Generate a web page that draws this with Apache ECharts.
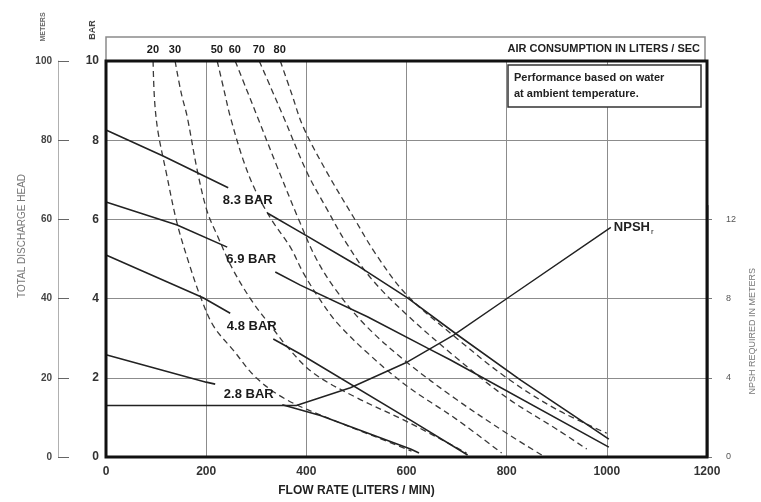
<!DOCTYPE html>
<html>
<head>
<meta charset="utf-8">
<script src="https://cdn.jsdelivr.net/npm/echarts@6/dist/echarts.min.js"></script>
<style>
  html, body { margin: 0; padding: 0; background: #fff; }
  #chart { width: 761px; height: 502px; }
</style>
</head>
<body>
<div id="chart"></div>
<script>
// flow rate (L/min) vs. discharge head (bar); '-' marks the gap where the label sits
const headLabels = ['8.3 BAR', '6.9 BAR', '4.8 BAR', '2.8 BAR']
const head83 = [[0, 8.26], [114, 7.6], [244, 6.8], '-', [322, 6.16], [388, 5.68], [500, 4.85], [602, 4.02], [700, 3.1], [828, 1.94], [1004, 0.45]]
const head69 = [[0, 6.44], [142, 5.86], [242, 5.3], '-', [338, 4.67], [388, 4.34], [522, 3.54], [642, 2.75], [688, 2.45], [1004, 0.25]]
const head48 = [[0, 5.1], [194, 4.02], [248, 3.63], '-', [334, 2.98], [388, 2.6], [608, 0.93], [722, 0.05]]
const head28 = [[0, 2.58], [200, 1.89], [218, 1.84], '-', [352, 1.32], [428, 1.05], [608, 0.2], [625, 0.1]]

// air consumption (liters / sec) iso-lines
const airLabels = [20, 30, 50, 60, 70, 80]
const air20 = [[94, 10], [97, 9], [104, 8.2], [120, 7.2], [142, 5.9], [168, 4.8], [190, 4.0], [215, 3.3], [254, 2.7], [300, 2.0], [360, 1.45], [450, 0.95], [530, 0.55], [610, 0.15]]
const air30 = [[138, 10], [150, 9.2], [162, 8.6], [182, 7.25], [202, 6.2], [222, 5.6], [254, 4.72], [294, 3.89], [330, 3.3], [362, 2.78], [414, 2.12], [500, 1.5], [600, 0.9], [720, 0.1]]
const air50 = [[222, 10], [235, 9.3], [248, 8.6], [274, 7.5], [298, 6.74], [330, 6.0], [368, 5.3], [394, 4.65], [428, 3.96], [462, 3.38], [522, 2.63], [600, 1.8], [700, 0.95], [790, 0.1]]
const air60 = [[258, 10], [280, 9.3], [302, 8.6], [342, 7.32], [388, 5.9], [420, 5.0], [460, 4.2], [520, 3.3], [600, 2.4], [700, 1.45], [800, 0.6], [870, 0.05]]
const air70 = [[306, 10], [330, 9.3], [354, 8.6], [402, 7.17], [442, 6.24], [480, 5.4], [530, 4.5], [600, 3.6], [700, 2.5], [800, 1.5], [900, 0.7], [960, 0.2]]
const air80 = [[348, 10], [370, 9.2], [394, 8.33], [442, 7.17], [494, 6.06], [540, 5.1], [600, 4.1], [700, 3.0], [800, 2.0], [900, 1.2], [1000, 0.6]]

// NPSH required (meters)
const npshCurve = [[0, 2.6], [380, 2.6], [488, 3.5], [602, 4.8], [694, 6.16], [802, 8.03], [1008, 11.6]]
const npshTicks = [0, 4, 8, 12]

const headCurves = [head83, head69, head48, head28]
const airCurves = [air20, air30, air50, air60, air70, air80]

const FONT = "'Liberation Sans', Arial, sans-serif"
const MAIN = { left: 106, top: 61, right: 54, bottom: 45 }
const MAIN_H = 502 - MAIN.top - MAIN.bottom
const NPSH_MAX = 12.7

// label sits in the middle of the gap of each head curve
const gapMid = (d) => {
  const i = d.indexOf('-')
  const a = d[i - 1]
  const b = d[i + 1]
  return [(a[0] + b[0]) / 2, (a[1] + b[1]) / 2]
}

const plain = (v) => String(v)

const chart = echarts.init(document.getElementById('chart'))

const option = {
  backgroundColor: '#fff',
  animation: false,
  textStyle: { fontFamily: FONT },
  grid: [
    { ...MAIN, show: true, borderColor: '#111', borderWidth: 3, backgroundColor: 'transparent', z: 5 },
    { left: 106, right: 56, top: 37, height: 24, show: true, borderColor: '#8a8a8a', borderWidth: 1.5 },
    { left: 708, width: 10, bottom: MAIN.bottom, top: MAIN.top + MAIN_H * (1 - NPSH_MAX / 20) },
  ],
  xAxis: [
    {
      gridIndex: 0,
      type: 'value',
      min: 0,
      max: 1200,
      interval: 200,
      axisLine: { show: false },
      axisTick: { show: false },
      axisLabel: { color: '#333', fontSize: 12, fontWeight: 'bold', margin: 9, formatter: plain },
      splitLine: { show: true, lineStyle: { color: '#8c8c8c', width: 1 } },
      name: 'FLOW RATE (LITERS / MIN)',
      nameLocation: 'middle',
      nameGap: 28,
      nameTextStyle: { color: '#222', fontSize: 12, fontWeight: 'bold', padding: [0, 100, 0, 0] },
    },
    { gridIndex: 1, type: 'value', min: 0, max: 1200, show: false },
    { gridIndex: 2, type: 'value', min: 0, max: 1, show: false },
  ],
  yAxis: [
    {
      gridIndex: 0,
      type: 'value',
      min: 0,
      max: 10,
      interval: 2,
      axisLine: { show: false },
      axisTick: { show: false },
      axisLabel: { color: '#333', fontSize: 12, fontWeight: 'bold', margin: 7, formatter: plain },
      splitLine: { show: true, lineStyle: { color: '#8c8c8c', width: 1 } },
    },
    {
      // meters scale on the far left
      gridIndex: 0,
      type: 'value',
      position: 'left',
      offset: 48,
      min: 0,
      max: 100,
      interval: 20,
      axisLine: { show: true, lineStyle: { color: '#b0b0b0', width: 1 } },
      axisTick: { show: true, inside: true, length: 11, lineStyle: { color: '#666' } },
      axisLabel: { color: '#444', fontSize: 10, fontWeight: 'bold', margin: 6, formatter: plain },
      splitLine: { show: false },
    },
    { gridIndex: 0, type: 'value', position: 'right', min: 0, max: 20, show: false },
    { gridIndex: 1, type: 'value', min: 0, max: 1, show: false },
    {
      gridIndex: 2,
      type: 'value',
      position: 'right',
      min: 0,
      max: NPSH_MAX,
      axisLine: { show: true, lineStyle: { color: '#999', width: 1 } },
      axisTick: { show: true, length: 4, customValues: npshTicks, lineStyle: { color: '#777' } },
      axisLabel: { color: '#555', fontSize: 9, margin: 8, customValues: npshTicks, formatter: plain },
      splitLine: { show: false },
      name: 'NPSH REQUIRED IN METERS',
      nameLocation: 'middle',
      nameRotate: 90,
      nameGap: 30,
      nameTextStyle: { color: '#777', fontSize: 9 },
    },
  ],
  graphic: [
    {
      type: 'text',
      x: 22,
      y: 236,
      rotation: Math.PI / 2,
      style: { text: 'TOTAL DISCHARGE HEAD', font: '10px ' + FONT, fill: '#777', align: 'center', verticalAlign: 'middle' },
    },
    {
      type: 'text',
      x: 43,
      y: 27,
      rotation: Math.PI / 2,
      style: { text: 'METERS', font: 'bold 7px ' + FONT, fill: '#666', align: 'center', verticalAlign: 'middle' },
    },
    {
      type: 'text',
      x: 93,
      y: 30,
      rotation: Math.PI / 2,
      style: { text: 'BAR', font: 'bold 9px ' + FONT, fill: '#444', align: 'center', verticalAlign: 'middle' },
    },
    {
      type: 'text',
      x: 700,
      y: 49,
      style: { text: 'AIR CONSUMPTION IN LITERS / SEC', font: 'bold 11px ' + FONT, fill: '#222', align: 'right', verticalAlign: 'middle' },
    },
    {
      type: 'rect',
      shape: { x: 508, y: 65, width: 193, height: 42 },
      style: { fill: '#fff', stroke: '#333', lineWidth: 1.5 },
      z: 10,
    },
    {
      type: 'text',
      x: 514,
      y: 70,
      z: 11,
      style: { text: 'Performance based on water\nat ambient temperature.', font: 'bold 11px ' + FONT, fill: '#222', lineHeight: 16 },
    },
  ],
  series: [
    ...airCurves.map((d, i) => ({
      type: 'line',
      name: airLabels[i] + ' L/s',
      data: d,
      smooth: 0.35,
      symbol: 'none',
      silent: true,
      lineStyle: { color: '#3a3a3a', width: 1.3, type: [6, 4] },
      z: 2,
    })),
    ...headCurves.map((d, i) => ({
      type: 'line',
      name: headLabels[i],
      data: d,
      symbol: 'none',
      silent: true,
      lineStyle: { color: '#222', width: 1.6 },
      z: 3,
    })),
    {
      type: 'line',
      name: 'NPSHr',
      yAxisIndex: 2,
      data: npshCurve,
      symbol: 'none',
      silent: true,
      lineStyle: { color: '#222', width: 1.5 },
      z: 3,
      endLabel: {
        show: true,
        distance: 3,
        formatter: '{a|NPSH}{b|r}',
        rich: {
          a: { fontSize: 13, fontWeight: 'bold', color: '#222', fontFamily: FONT },
          b: { fontSize: 8, color: '#222', fontFamily: FONT, padding: [8, 0, 0, 1] },
        },
      },
    },
    {
      // pressure labels on the head curves
      type: 'scatter',
      data: headCurves.map(gapMid),
      symbolSize: 0,
      itemStyle: { color: '#fff', opacity: 1 },
      silent: true,
      z: 4,
      label: {
        show: true,
        position: 'inside',
        formatter: (p) => headLabels[p.dataIndex],
        color: '#1a1a1a',
        textBorderWidth: 0,
        fontSize: 13,
        fontWeight: 'bold',
        fontFamily: FONT,
      },
    },
    {
      // air consumption values in the top strip
      type: 'scatter',
      xAxisIndex: 1,
      yAxisIndex: 3,
      data: airCurves.map((d) => [d[0][0], 0.45]),
      symbolSize: 0,
      itemStyle: { color: '#fff', opacity: 1 },
      silent: true,
      label: {
        show: true,
        position: 'inside',
        formatter: (p) => String(airLabels[p.dataIndex]),
        color: '#1a1a1a',
        textBorderWidth: 0,
        fontSize: 11,
        fontWeight: 'bold',
        fontFamily: FONT,
      },
    },
  ],
}

chart.setOption(option)
</script>
</body>
</html>
